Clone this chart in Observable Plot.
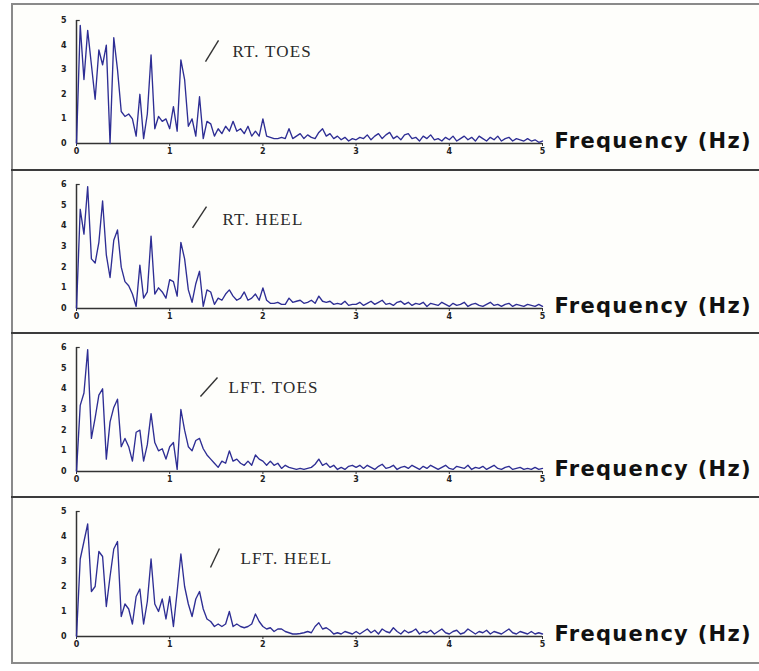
<!DOCTYPE html>
<html>
<head>
<meta charset="utf-8">
<script src="https://cdn.jsdelivr.net/npm/d3@7"></script>
<script src="https://cdn.jsdelivr.net/npm/@observablehq/plot@0.6"></script>
<style>
  html, body { margin: 0; padding: 0; background: #ffffff; }
  #frame { position: absolute; left: 11px; top: 3px; width: 760px; height: 657px;
           border-left: 2px solid #8a8a8a; border-top: 2px solid #8a8a8a; border-bottom: 2px solid #8a8a8a;
           background: #fefefb; }
  .sep { position: absolute; left: 11px; width: 760px; height: 2px; background: #3c3c3c; }
  .panel { position: absolute; left: 13px; }
</style>
</head>
<body>
<div id="frame"></div>
<div class="sep" style="top:169px"></div>
<div class="sep" style="top:332px"></div>
<div class="sep" style="top:496px"></div>
<div id="p0" class="panel" style="top:5px"></div>
<div id="p1" class="panel" style="top:171px"></div>
<div id="p2" class="panel" style="top:334px"></div>
<div id="p3" class="panel" style="top:498px"></div>
<script>
// Frequency resolution of the spectra (Hz between samples), 0 to 5 Hz
const freqStep = 0.04;
const xTicks = [0, 1, 2, 3, 4, 5];
const xLabel = "Frequency (Hz)";
const panelNames = ["RT. TOES", "RT. HEEL", "LFT. TOES", "LFT. HEEL"];
const yMaxes = [5, 6, 6, 5];

const rtToes = [
  0, 4.8, 2.6, 4.6, 3.2, 1.8, 3.8, 3.2, 4.0, 0.0,
  4.3, 3.0, 1.3, 1.1, 1.2, 1.0, 0.3, 2.0, 0.2, 1.2,
  3.6, 0.6, 1.1, 0.9, 1.0, 0.6, 1.5, 0.5, 3.4, 2.6,
  0.7, 1.0, 0.3, 1.9, 0.2, 0.9, 0.8, 0.3, 0.6, 0.4,
  0.7, 0.5, 0.9, 0.5, 0.6, 0.4, 0.7, 0.3, 0.5, 0.3,
  1.0, 0.3, 0.25, 0.2, 0.2, 0.25, 0.2, 0.6, 0.2, 0.3,
  0.4, 0.2, 0.35, 0.25, 0.2, 0.45, 0.6, 0.3, 0.4, 0.2,
  0.3, 0.15, 0.25, 0.1, 0.2, 0.15, 0.25, 0.2, 0.35, 0.15,
  0.3, 0.4, 0.2, 0.35, 0.45, 0.2, 0.3, 0.15, 0.35, 0.4,
  0.2, 0.25, 0.1, 0.3, 0.2, 0.35, 0.15, 0.2, 0.1, 0.25,
  0.15, 0.3, 0.1, 0.2, 0.3, 0.15, 0.25, 0.1, 0.3, 0.2,
  0.1, 0.25, 0.15, 0.3, 0.1, 0.2, 0.25, 0.1, 0.2, 0.15,
  0.1, 0.2, 0.1, 0.15, 0.05, 0.1
];
const rtHeel = [
  0, 4.8, 3.6, 5.9, 2.4, 2.2, 3.2, 5.2, 2.6, 1.5,
  3.3, 3.8, 2.0, 1.3, 1.1, 0.7, 0.1, 2.1, 0.5, 0.8,
  3.5, 0.7, 1.0, 0.8, 0.5, 1.4, 1.3, 0.6, 3.2, 2.4,
  0.9, 0.3, 1.2, 1.8, 0.1, 0.9, 0.8, 0.2, 0.5, 0.4,
  0.7, 0.9, 0.6, 0.4, 0.5, 0.8, 0.4, 0.5, 0.7, 0.4,
  1.0, 0.4, 0.25, 0.25, 0.3, 0.2, 0.2, 0.5, 0.3, 0.35,
  0.4, 0.25, 0.3, 0.4, 0.25, 0.6, 0.35, 0.3, 0.35, 0.2,
  0.25, 0.2, 0.35, 0.15, 0.2, 0.2, 0.3, 0.15, 0.25, 0.35,
  0.2, 0.3, 0.4, 0.2, 0.25, 0.15, 0.3, 0.35, 0.2, 0.3,
  0.15, 0.25, 0.2, 0.3, 0.1, 0.25, 0.2, 0.15, 0.3, 0.2,
  0.1, 0.25, 0.15, 0.2, 0.3, 0.1, 0.2, 0.25, 0.15, 0.1,
  0.2, 0.3, 0.15, 0.2, 0.1, 0.2, 0.25, 0.1, 0.2, 0.15,
  0.1, 0.2, 0.15, 0.1, 0.2, 0.1
];
const lftToes = [
  0, 3.2, 3.8, 5.9, 1.6, 2.6, 3.7, 4.0, 0.6, 2.4,
  3.1, 3.5, 1.2, 1.6, 1.2, 0.5, 1.9, 2.0, 0.5, 1.3,
  2.8, 1.4, 1.0, 1.1, 0.6, 1.2, 1.4, 0.1, 3.0, 2.0,
  1.2, 1.0, 1.5, 1.6, 1.1, 0.8, 0.6, 0.4, 0.2, 0.5,
  0.4, 1.0, 0.5, 0.6, 0.4, 0.3, 0.5, 0.3, 0.8, 0.6,
  0.5, 0.3, 0.5, 0.3, 0.4, 0.15, 0.3, 0.2, 0.15, 0.1,
  0.15, 0.1, 0.15, 0.2, 0.35, 0.6, 0.3, 0.4, 0.2, 0.3,
  0.1, 0.2, 0.1, 0.25, 0.3, 0.2, 0.3, 0.15, 0.3, 0.2,
  0.1, 0.25, 0.35, 0.15, 0.2, 0.3, 0.1, 0.2, 0.25, 0.15,
  0.3, 0.2, 0.1, 0.25, 0.15, 0.3, 0.2, 0.1, 0.2, 0.3,
  0.15, 0.1, 0.25, 0.2, 0.15, 0.3, 0.1, 0.2, 0.15, 0.25,
  0.1, 0.2, 0.3, 0.15, 0.1, 0.2, 0.25, 0.1, 0.15, 0.2,
  0.1, 0.15, 0.1, 0.2, 0.1, 0.15
];
const lftHeel = [
  0, 3.1, 3.8, 4.5, 1.8, 2.0, 3.4, 3.2, 1.2, 2.4,
  3.5, 3.8, 0.8, 1.3, 1.1, 0.5, 1.6, 1.9, 0.5, 1.4,
  3.1, 1.3, 1.0, 1.5, 0.7, 1.6, 0.4, 1.8, 3.3, 2.0,
  1.3, 0.8, 1.5, 1.8, 1.1, 0.7, 0.6, 0.4, 0.5, 0.4,
  0.5, 1.0, 0.4, 0.5, 0.4, 0.35, 0.4, 0.5, 0.9, 0.6,
  0.4, 0.3, 0.35, 0.2, 0.3, 0.3, 0.2, 0.15, 0.1, 0.1,
  0.12, 0.15, 0.2, 0.15, 0.4, 0.55, 0.3, 0.35, 0.25, 0.1,
  0.15, 0.1, 0.2, 0.15, 0.1, 0.2, 0.1, 0.2, 0.3, 0.15,
  0.25, 0.1, 0.3, 0.2, 0.15, 0.35, 0.2, 0.1, 0.25, 0.15,
  0.2, 0.3, 0.1, 0.2, 0.15, 0.25, 0.1, 0.2, 0.3, 0.15,
  0.1, 0.2, 0.25, 0.1, 0.15, 0.3, 0.2, 0.1, 0.2, 0.15,
  0.25, 0.1, 0.2, 0.15, 0.1, 0.2, 0.3, 0.15, 0.1, 0.2,
  0.15, 0.1, 0.2, 0.1, 0.15, 0.1
];
const series = [rtToes, rtHeel, lftToes, lftHeel];

// layout of each panel (pixels) and annotation placement
const layouts = [
  {height: 164, marginTop: 15, marginBottom: 26, label: [1.674, 3.50], slash: [1.384, 3.33, 1.524, 4.19]},
  {height: 161, marginTop: 13, marginBottom: 24, label: [1.567, 4.05], slash: [1.245, 3.90, 1.395, 4.93]},
  {height: 162, marginTop: 13, marginBottom: 25, label: [1.631, 3.82], slash: [1.330, 3.63, 1.513, 4.55]},
  {height: 162, marginTop: 13, marginBottom: 24, label: [1.760, 2.92], slash: [1.438, 2.76, 1.534, 3.52]}
];

series.forEach((vals, p) => {
  const L = layouts[p];
  const ymax = yMaxes[p];
  const yTicks = d3.range(0, ymax + 1);
  const chart = Plot.plot({
    width: 746,
    height: L.height,
    marginLeft: 63,
    marginRight: 217,
    marginTop: L.marginTop,
    marginBottom: L.marginBottom,
    style: {background: "transparent", fontFamily: "DejaVu Sans", fontSize: "8px", color: "#222", overflow: "visible"},
    x: {domain: [0, 5]},
    y: {domain: [0, ymax]},
    marks: [
      Plot.axisX({ticks: xTicks, tickFormat: d3.format("d"), tickSize: 3, tickPadding: 2, label: null, fontWeight: "bold", stroke: "#333"}),
      Plot.axisY({ticks: yTicks, tickFormat: d3.format("d"), tickSize: 0, tickPadding: 10, label: null, fontWeight: "bold"}),
      Plot.ruleY([0], {stroke: "#333", strokeWidth: 1.5}),
      Plot.ruleX([0], {y1: 0, y2: ymax, stroke: "#333", strokeWidth: 1.5}),
      Plot.ruleY([ymax], {x1: 0, x2: 0.04, stroke: "#333", strokeWidth: 1.2}),
      Plot.line(vals, {x: (d, i) => i * freqStep, y: d => d, stroke: "#2e2e94", strokeWidth: 1.35}),
      Plot.link([L.slash], {x1: d => d[0], y1: d => d[1], x2: d => d[2], y2: d => d[3], stroke: "#333", strokeWidth: 1.4}),
      Plot.text([panelNames[p]], {x: L.label[0], y: L.label[1], text: d => d, textAnchor: "start", lineAnchor: "bottom",
        fontFamily: "Liberation Serif", fontSize: 17, fill: "#2a2a2a"}),
      Plot.text([xLabel], {x: 5, y: 0, text: d => d, textAnchor: "start", lineAnchor: "bottom", dx: 12, dy: 4,
        fontFamily: "DejaVu Sans", fontSize: 21, fontWeight: "bold", fill: "#111"})
    ]
  });
  chart.querySelectorAll("text").forEach(t => {
    if (t.textContent === panelNames[p]) t.style.letterSpacing = "1.2px";
    if (t.textContent === xLabel) t.style.letterSpacing = "1.3px";
  });
  document.getElementById("p" + p).appendChild(chart);
});
</script>
</body>
</html>
